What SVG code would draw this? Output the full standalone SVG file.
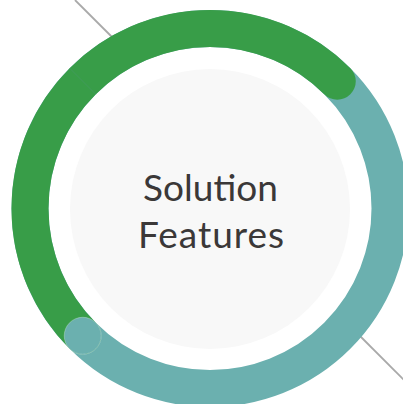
<svg xmlns="http://www.w3.org/2000/svg" width="403" height="404" viewBox="0 0 403 404">
  <style>
    .conn { stroke: #a9a9a9; stroke-width: 1.8; fill: none; }
    .ring { fill: none; stroke-width: 37; }
    .label { font-family: Lato, "Noto Sans", "Liberation Sans", sans-serif; font-size: 37px; fill: #3b3838; text-anchor: middle; }
  </style>
  <rect width="403" height="404" fill="#ffffff"/>
  <g id="connectors">
    <line class="conn" x1="75" y1="0" x2="118" y2="43"/>
    <line class="conn" x1="356" y1="332" x2="405" y2="381"/>
  </g>
  <g id="ring">
    <circle class="ring" cx="210" cy="208.5" r="180" stroke="#6bb0af"/>
    <path class="ring" d="M 82.72 335.78 A 180 180 0 0 1 337.28 81.22" stroke="#389d48" stroke-linecap="round"/>
    <line x1="69.6" y1="68.1" x2="95.8" y2="94.3" stroke="#4f9a70" stroke-width="0.8" opacity="0.6"/>
    <circle cx="82.72" cy="335.78" r="18.5" fill="#6bb0af" stroke="#ffffff" stroke-opacity="0.35" stroke-width="0.8"/>
  </g>
  <g id="center-node">
    <circle cx="210" cy="209" r="140" fill="#f8f8f8"/>
    <text class="label" x="210.5" y="201" textLength="135" lengthAdjust="spacing">Solution</text>
    <text class="label" x="211" y="248" textLength="146" lengthAdjust="spacing">Features</text>
  </g>
</svg>
